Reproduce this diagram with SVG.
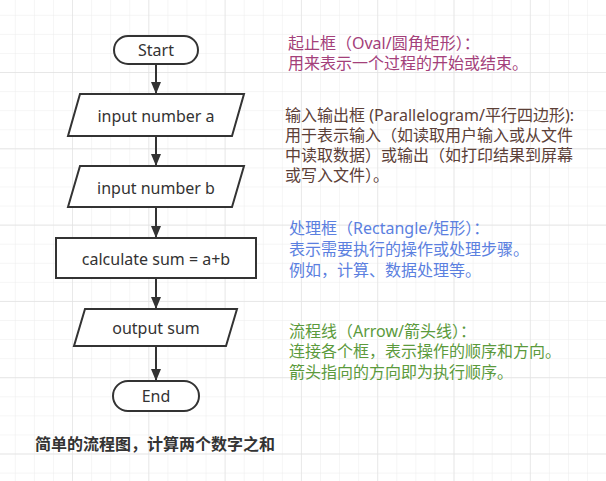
<svg xmlns="http://www.w3.org/2000/svg" width="606" height="481" viewBox="0 0 606 481">
<defs>
<pattern id="minor" x="-3.3" y="-3.3" width="19.075" height="19.075" patternUnits="userSpaceOnUse">
<path d="M19.075 0V19.075M0 19.075H19.075" fill="none" stroke="#ececec" stroke-width="1"/>
</pattern>
<pattern id="major" x="-3.3" y="-3.3" width="76.3" height="76.3" patternUnits="userSpaceOnUse">
<path d="M76.3 0V76.3M0 76.3H76.3" fill="none" stroke="#e2e2e2" stroke-width="1.3"/>
</pattern>
<marker id="arr" markerWidth="12" markerHeight="13" viewBox="0 0 12 13" refX="12" refY="6.5" orient="auto" markerUnits="userSpaceOnUse">
<path d="M0 1.5L12 6.5L0 11.5Z" fill="#333"/>
</marker>
<style>
.shape{fill:#fff;stroke:#333;stroke-width:2}
.lbl{font-family:"Noto Sans","Noto Sans CJK SC",sans-serif;font-size:16px;fill:#333;text-anchor:middle;dominant-baseline:central}
.note{font-family:"Noto Sans","Noto Sans CJK SC",sans-serif;font-size:16px;dominant-baseline:central}
.conn{stroke:#333;stroke-width:2;fill:none;marker-end:url(#arr)}
</style>
</defs>
<rect width="606" height="481" fill="#fff"/>
<rect width="606" height="481" fill="url(#minor)"/>
<rect width="606" height="481" fill="url(#major)"/>

<g id="connectors">
<line class="conn" x1="156" y1="65" x2="156" y2="94"/>
<line class="conn" x1="156" y1="137" x2="156" y2="166"/>
<line class="conn" x1="156" y1="208" x2="156" y2="238"/>
<line class="conn" x1="156" y1="279" x2="156" y2="309"/>
<line class="conn" x1="156" y1="347" x2="156" y2="381"/>
</g>

<g id="start">
<rect class="shape" x="114" y="36" width="84" height="28" rx="14"/>
<text class="lbl" x="156" y="50">Start</text>
</g>
<g id="inputA">
<polygon class="shape" points="80,94 244,94 232,136 68,136"/>
<text class="lbl" x="156" y="116">input number a</text>
</g>
<g id="inputB">
<polygon class="shape" points="80,166 244,166 232,207 68,207"/>
<text class="lbl" x="156" y="188">input number b</text>
</g>
<g id="calc">
<rect class="shape" x="56" y="238" width="200" height="40"/>
<text class="lbl" x="156" y="259">calculate sum = a+b</text>
</g>
<g id="output">
<polygon class="shape" points="85,309 237,309 226,346 74,346"/>
<text class="lbl" x="156" y="328">output sum</text>
</g>
<g id="end">
<rect class="shape" x="113" y="381" width="86" height="30" rx="15"/>
<text class="lbl" x="156" y="396">End</text>
</g>

<g id="note-oval" class="note" fill="#a3407a">
<text x="288" y="43">起止框（Oval/圆角矩形）：</text>
<text x="288" y="63">用来表示一个过程的开始或结束。</text>
</g>
<g id="note-io" class="note" fill="#5c4037">
<text x="285" y="115">输入输出框 (Parallelogram/平行四边形):</text>
<text x="285" y="135">用于表示输入（如读取用户输入或从文件</text>
<text x="285" y="155">中读取数据）或输出（如打印结果到屏幕</text>
<text x="285" y="175">或写入文件）。</text>
</g>
<g id="note-rect" class="note" fill="#5b7fe0">
<text x="289" y="228">处理框（Rectangle/矩形）：</text>
<text x="289" y="249">表示需要执行的操作或处理步骤。</text>
<text x="289" y="270">例如，计算、数据处理等。</text>
</g>
<g id="note-arrow" class="note" fill="#5b9a3c">
<text x="289" y="331">流程线（Arrow/箭头线）：</text>
<text x="289" y="351">连接各个框，表示操作的顺序和方向。</text>
<text x="289" y="372">箭头指向的方向即为执行顺序。</text>
</g>
<g id="title">
<text class="note" x="35" y="444" font-weight="bold" fill="#333">简单的流程图，计算两个数字之和</text>
</g>
</svg>
